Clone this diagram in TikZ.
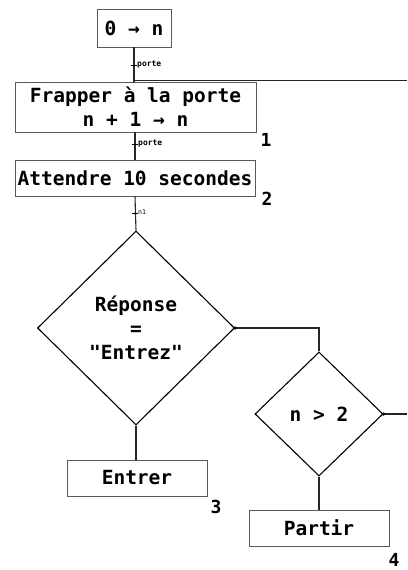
\documentclass[tikz,border=0pt]{standalone}
\usepackage{fontspec}
\setmonofont{DejaVu Sans Mono}
\usetikzlibrary{shapes.geometric}
\tikzset{
  txt/.style={font=\ttfamily\bfseries\fontsize{19.5bp}{24bp}\selectfont},
  stepbox/.style={draw=black!65, line width=0.8bp, inner sep=0pt, txt, align=center},
  choice/.style={draw=black, line width=1.1bp, shape=diamond, inner sep=0pt, txt, align=center},
  wire/.style={draw=black!85, line width=1.1bp},
  tag/.style={font=\ttfamily\bfseries\fontsize{8bp}{9bp}\selectfont, inner sep=0pt, anchor=west},
  num/.style={font=\ttfamily\bfseries\fontsize{18bp}{20bp}\selectfont, inner sep=0pt},
  knot/.style={circle, fill=black, inner sep=0pt, minimum size=3.5bp}
}
\begin{document}
\begin{tikzpicture}[x=1bp,y=-1bp]
\useasboundingbox (0,0) rectangle (407,570);

% process boxes
\node[stepbox, minimum width=74bp, minimum height=38bp] (init) at (134,28) {0 → n};
\node[stepbox, minimum width=241bp, minimum height=50bp] (knock) at (135.5,107) {Frapper à la porte\\n + 1 → n};
\node[stepbox, minimum width=240bp, minimum height=36bp] (wait) at (135,178) {Attendre 10 secondes};

% decisions
\node[choice, minimum width=197bp, minimum height=194bp] (answer) at (136,328) {Réponse\\=\\"Entrez"};
\node[choice, minimum width=128bp, minimum height=124bp] (count) at (319,414) {n > 2};

% outcomes
\node[stepbox, minimum width=140bp, minimum height=36bp] (enter) at (137,478) {Entrer};
\node[stepbox, minimum width=140bp, minimum height=36bp] (leave) at (319,528) {Partir};

% step numbers
\node[num] (n1) at (266,140) {1};
\node[num] (n2) at (267,199) {2};
\node[num] (n3) at (216,507) {3};
\node[num] (n4) at (394,560) {4};

% free ends on the right margin
\coordinate (back) at (407,80);
\coordinate (out) at (407,414);

% connectors
\draw[wire] (init.south -| 134,0) -- (134,82);
\draw[wire, line width=0.8bp] (134,80) -- (back);
\draw[wire] (knock.south -| 135,0) -- (wait.north -| 135,0);
\draw[wire] (wait.south -| 135,0) -- (answer.north);
\draw[wire] (answer.east) -- (answer.east -| count.north) -- (count.north);
\draw[wire] (count.east) -- (out);
\draw[wire] (answer.south) -- (enter.north -| answer.south);
\draw[wire] (count.south) -- (leave.north -| count.south);
\node[knot] (k1) at (answer.east) {};
\node[knot] (k2) at (count.east) {};

% small labels on the links
\draw[line width=0.8bp] (131,65) -- (137,65);
\node[tag] (t1) at (137,65) {porte};
\draw[line width=0.8bp] (132,144) -- (138,144);
\node[tag] (t2) at (138,144) {porte};
\draw[line width=0.8bp] (132,213) -- (138,213);
\node[tag, font=\ttfamily\fontsize{6.5bp}{7bp}\selectfont] (t3) at (138,212) {n1};
\end{tikzpicture}
\end{document}
